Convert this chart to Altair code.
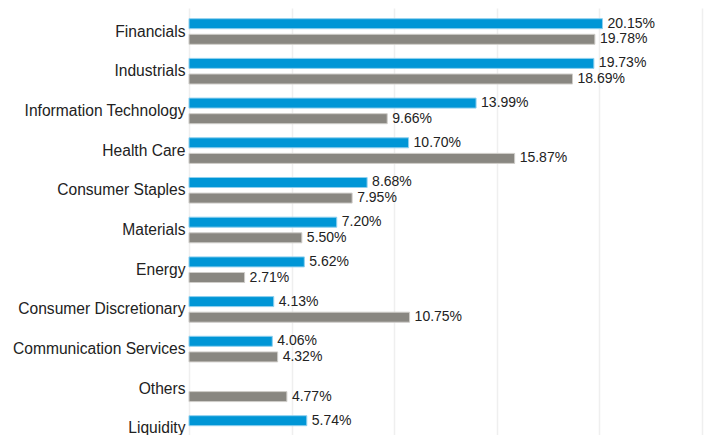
import altair as alt
import pandas as pd

categories = ["Financials", "Industrials", "Information Technology", "Health Care",
              "Consumer Staples", "Materials", "Energy", "Consumer Discretionary",
              "Communication Services", "Others", "Liquidity"]
fund = [20.15, 19.73, 13.99, 10.70, 8.68, 7.20, 5.62, 4.13, 4.06, None, 5.74]
index = [19.78, 18.69, 9.66, 15.87, 7.95, 5.50, 2.71, 10.75, 4.32, 4.77, None]
series_names = ["Fund", "Index"]
series_colors = ["#0096d6", "#898781"]
series_strokes = ["#8fd0ef", "#cfcdc9"]

rows = []
for c, f, i in zip(categories, fund, index):
    if f is not None:
        rows.append({"sector": c, "series": series_names[0], "value": f, "label": f"{f:.2f}%"})
    if i is not None:
        rows.append({"sector": c, "series": series_names[1], "value": i, "label": f"{i:.2f}%"})
df = pd.DataFrame(rows)

y_enc = alt.Y("sector:N", sort=categories, title=None,
              scale=alt.Scale(paddingInner=0.2, paddingOuter=0.192),
              axis=alt.Axis(ticks=False, domain=False, labelPadding=4, labelFontSize=15.6,
                            labelFont="Liberation Sans", labelColor="#222222", labelLimit=300))
yoff_enc = alt.YOffset("series:N", sort=series_names,
                       scale=alt.Scale(paddingInner=0.359, paddingOuter=0.197))
x_enc = alt.X("value:Q", title=None,
              scale=alt.Scale(domain=[0, 25], nice=False),
              axis=alt.Axis(values=[0, 5, 10, 15, 20, 25], grid=True, gridColor="#efefef",
                            gridWidth=1.5, domain=False, ticks=False, labels=False))

bars = alt.Chart(df).mark_bar(strokeWidth=1).encode(
    y=y_enc,
    yOffset=yoff_enc,
    x=x_enc,
    color=alt.Color("series:N", sort=series_names,
                    scale=alt.Scale(domain=series_names, range=series_colors),
                    legend=alt.Legend(orient="bottom", title=None, labelFontSize=14,
                                      labelFont="Liberation Sans")),
    stroke=alt.Stroke("series:N", scale=alt.Scale(domain=series_names, range=series_strokes),
                      legend=None),
)

labels = alt.Chart(df).mark_text(align="left", baseline="middle", dx=5, fontSize=14,
                                 font="Liberation Sans", color="#222222").encode(
    y=alt.Y("sector:N", sort=categories),
    yOffset=alt.YOffset("series:N", sort=series_names),
    x="value:Q",
    text="label:N",
)

chart = alt.layer(bars, labels).properties(
    width=513, height=444,
    autosize=alt.AutoSizeParams(type="none"),
    padding={"left": 181, "top": 0, "right": 4, "bottom": -17},
).configure_view(stroke=None)

chart.save("out.html", embed_options={"renderer": "svg", "actions": False})
